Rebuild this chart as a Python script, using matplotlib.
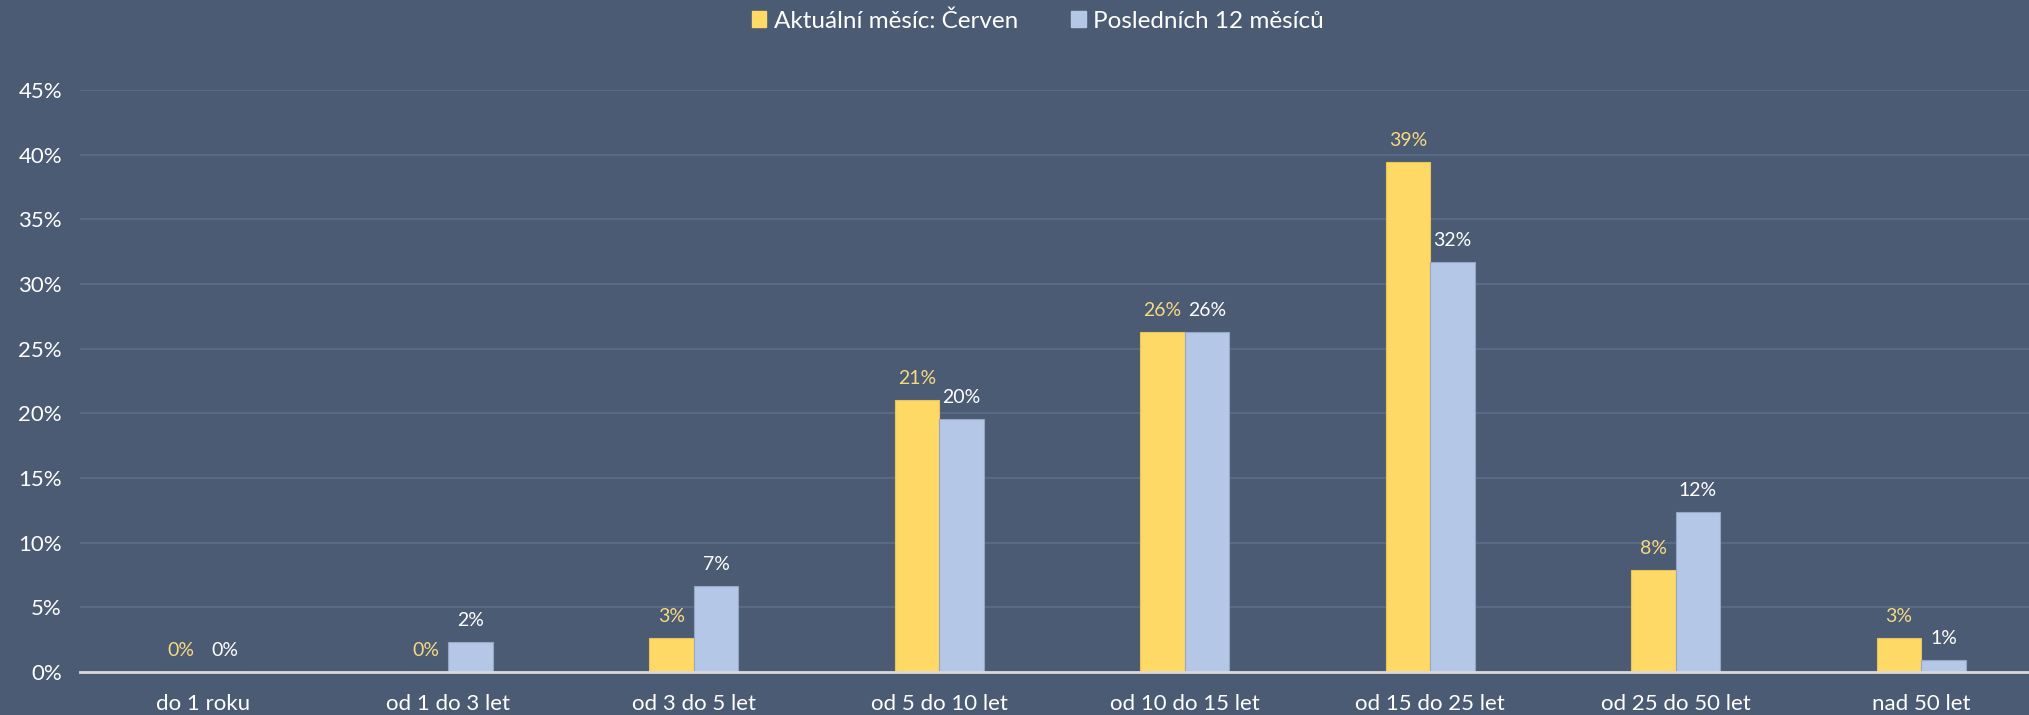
import matplotlib
matplotlib.use("Agg")
import matplotlib.pyplot as plt
import numpy as np
from matplotlib.patches import Patch

plt.rcParams['font.family'] = ['Lato', 'DejaVu Sans']

categories = ["do 1 roku", "od 1 do 3 let", "od 3 do 5 let", "od 5 do 10 let",
              "od 10 do 15 let", "od 15 do 25 let", "od 25 do 50 let", "nad 50 let"]
current_month = [0.0, 0.0, 2.65, 21.0, 26.3, 39.4, 7.9, 2.63]
last_12_months = [0.0, 2.3, 6.65, 19.6, 26.3, 31.7, 12.36, 0.93]
series_names = ["Aktuální měsíc: Červen", "Posledních 12 měsíců"]
yticks = [0, 5, 10, 15, 20, 25, 30, 35, 40, 45]

BG = "#4B5B73"
YELLOW = "#FFD966"
BLUE = "#B4C7E7"
YLABEL = "#F6D983"
GRID = "#5A6C88"
TEXT = "#FFFFFF"

W, H = 2029, 715
fig = plt.figure(figsize=(W / 100, H / 100), dpi=100, facecolor=BG)
left, right, bottom, top = 80, 2044, 672, 90
ax = fig.add_axes([left / W, (H - bottom) / H, (right - left) / W, (bottom - top) / H])
ax.set_facecolor(BG)

x = np.arange(len(categories))
bw = 0.181
ax.bar(x - bw / 2, current_month, bw, color=YELLOW, edgecolor="#E8C55A", linewidth=0.8, zorder=3)
ax.bar(x + bw / 2, last_12_months, bw, color=BLUE, edgecolor="#93A6C6", linewidth=0.8, zorder=3)

for xi, v in zip(x, current_month):
    ax.annotate(f"{round(v):.0f}%", (xi - bw / 2, v), xytext=(0, 13), textcoords="offset pixels",
                ha="center", va="bottom", color=YLABEL, fontsize=14)
for xi, v in zip(x, last_12_months):
    ax.annotate(f"{round(v):.0f}%", (xi + bw / 2, v), xytext=(0, 13), textcoords="offset pixels",
                ha="center", va="bottom", color=TEXT, fontsize=14)

ax.set_xlim(-0.5, len(categories) - 0.5)
ax.set_ylim(0, 45)
ax.set_yticks(yticks)
ax.set_yticklabels([f"{t}%" for t in yticks])
ax.set_xticks(x)
ax.set_xticklabels(categories)
ax.tick_params(axis="both", length=0, colors=TEXT, labelsize=16)
ax.tick_params(axis="y", pad=13)
ax.tick_params(axis="x", pad=16)
ax.yaxis.grid(True, color=GRID, linewidth=1.3, zorder=0)
ax.set_axisbelow(True)
for s in ["top", "right", "left"]:
    ax.spines[s].set_visible(False)
ax.spines["bottom"].set_color("#D9D9D9")
ax.spines["bottom"].set_linewidth(2)
ax.spines["bottom"].set_zorder(4)

handles = [Patch(facecolor=YELLOW, edgecolor=YELLOW), Patch(facecolor=BLUE, edgecolor=BLUE)]
fig.legend(handles, series_names, loc="center", bbox_to_anchor=(1038 / W, 1 - 21 / H),
           ncol=2, frameon=False, fontsize=17.5, labelcolor=TEXT,
           handlelength=0.6, handleheight=0.6, handletextpad=0.3, columnspacing=2.2)

fig.savefig("out.png", dpi=100, facecolor=BG)
